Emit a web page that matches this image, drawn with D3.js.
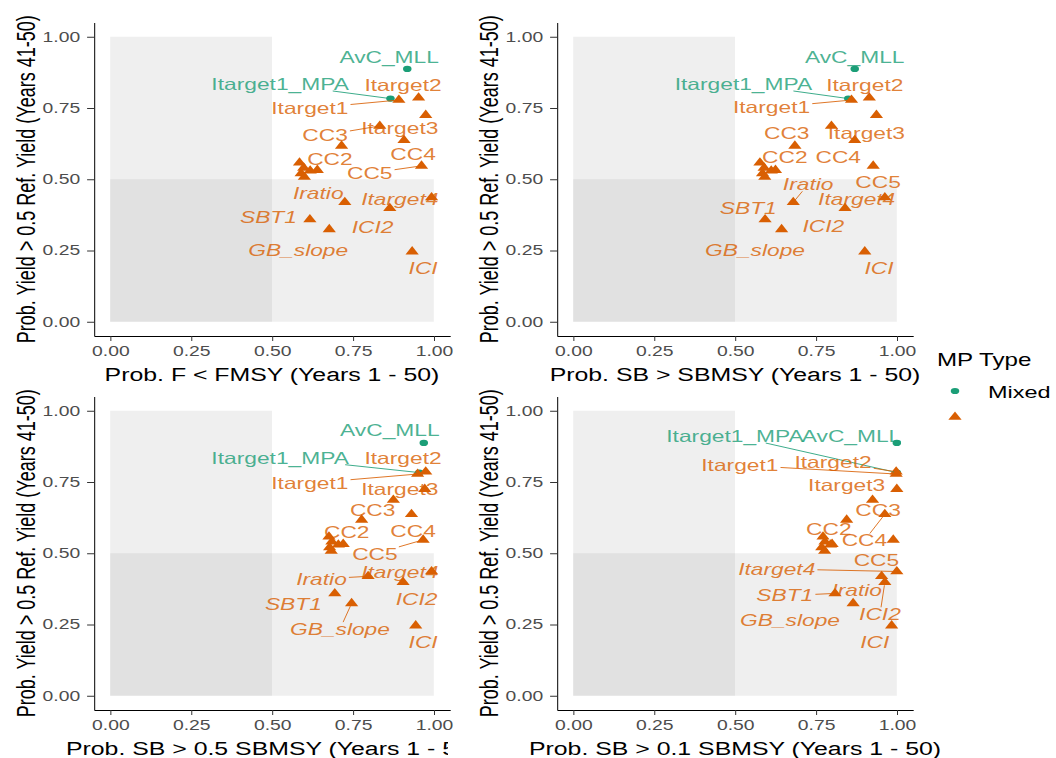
<!DOCTYPE html>
<html>
<head>
<meta charset="utf-8">
<style>
body { margin: 0; background: #fff; }
svg { display: block; font-family: "Liberation Sans", Arial, sans-serif; }
.axis path { stroke: #000; vector-effect: non-scaling-stroke; }
.axis line { stroke: #333; vector-effect: non-scaling-stroke; }
.axis text { fill: #4d4d4d; font-size: 14px; font-family: "Liberation Sans", Arial, sans-serif; }
</style>
</head>
<body>
<svg width="1056" height="758"></svg>
<script src="https://d3js.org/d3.v7.min.js"></script>
<script>

// management procedures, one entry per point
var mpNames = ["AvC_MLL", "Itarget1_MPA", "Itarget1", "Itarget2", "Itarget3", "CC3", "CC4",
  "unlabelled_1", "CC5", "CC2", "unlabelled_2", "unlabelled_3", "unlabelled_4", "unlabelled_5",
  "unlabelled_6", "Iratio", "Itarget4", "ICI2", "SBT1", "GB_slope", "ICI"];
var mpTypes = ["Mixed", ""];
var mpType = ["Mixed", "Mixed", "", "", "", "", "", "", "", "", "", "", "", "", "", "", "", "", "", "", ""];

var yieldProb = [0.887, 0.783, 0.778, 0.786, 0.725, 0.687, 0.637, 0.617, 0.547, 0.532, 0.558,
  0.540, 0.530, 0.520, 0.508, 0.419, 0.436, 0.398, 0.359, 0.324, 0.246];

var probF = [0.918, 0.866, 0.892, 0.953, 0.975, 0.833, 0.908, 0.715, 0.962, 0.640, 0.585,
  0.598, 0.618, 0.590, 0.600, 0.725, 0.993, 0.864, 0.617, 0.677, 0.933];
var probSB = [0.870, 0.850, 0.860, 0.915, 0.937, 0.798, 0.870, 0.685, 0.927, 0.625, 0.577,
  0.590, 0.612, 0.585, 0.592, 0.680, 0.963, 0.840, 0.593, 0.644, 0.901];
var probSB05 = [0.969, 0.955, 0.950, 0.975, 0.972, 0.875, 0.931, 0.777, 0.967, 0.720, 0.676,
  0.685, 0.705, 0.678, 0.683, 0.797, 0.993, 0.905, 0.694, 0.746, 0.944];
var probSB01 = [1.000, 1.000, 0.998, 0.998, 1.000, 0.925, 0.963, 0.845, 0.989, 0.800, 0.772,
  0.778, 0.795, 0.768, 0.777, 0.953, 1.000, 0.963, 0.809, 0.865, 0.984];

// where the repelled labels ended up (data units), null = label dropped
var labelF = [[0.862, 0.928], [0.525, 0.834], [0.617, 0.749], [0.905, 0.830], [0.895, 0.679],
  [0.664, 0.655], [0.936, 0.588], null, [0.802, 0.521], [0.679, 0.570], null, null, null, null, null,
  [0.643, 0.451], [0.895, 0.431], [0.811, 0.333], [0.489, 0.368], [0.581, 0.252], [0.967, 0.187]];
var labelSB = [[0.870, 0.928], [0.526, 0.834], [0.613, 0.752], [0.901, 0.830], [0.906, 0.663],
  [0.660, 0.663], [0.819, 0.579], null, [0.942, 0.491], [0.654, 0.579], null, null, null, null, null,
  [0.726, 0.482], [0.876, 0.429], [0.773, 0.336], [0.541, 0.398], [0.562, 0.252], [0.945, 0.187]];
var labelSB05 = [[0.864, 0.930], [0.525, 0.835], [0.617, 0.746], [0.905, 0.835], [0.895, 0.726],
  [0.811, 0.650], [0.936, 0.577], null, [0.818, 0.498], [0.731, 0.574], null, null, null, null, null,
  [0.653, 0.410], [0.895, 0.433], [0.947, 0.339], [0.566, 0.322], [0.710, 0.234], [0.967, 0.187]];
var labelSB01 = [[0.860, 0.911], [0.500, 0.911], [0.515, 0.809], [0.803, 0.820], [0.845, 0.738],
  [0.942, 0.652], [0.900, 0.545], null, [0.937, 0.474], [0.790, 0.585], null, null, null, null, null,
  [0.876, 0.369], [0.629, 0.445], [0.948, 0.286], [0.654, 0.351], [0.670, 0.265], [0.932, 0.187]];

// labels that got a leader segment
var segF = ["Itarget1_MPA", "Itarget1", "CC3", "CC5"];
var segSB = ["Itarget1_MPA", "Itarget1", "Iratio"];
var segSB05 = ["Itarget1_MPA", "Itarget1", "CC5", "Iratio", "GB_slope"];
var segSB01 = ["Itarget1_MPA", "Itarget1", "Itarget2", "CC4", "Itarget4", "SBT1", "ICI2"];

var xTitles = ["Prob. F < FMSY (Years 1 - 50)", "Prob. SB > SBMSY (Years 1 - 50)",
  "Prob. SB > 0.5 SBMSY (Years 1 - 50)", "Prob. SB > 0.1 SBMSY (Years 1 - 50)"];
var yTitle = "Prob. Yield > 0.5 Ref. Yield (Years 41-50)";
var tickValues = [0, 0.25, 0.5, 0.75, 1];

// shaded zones: x limits and y limits
var zoneX = [[0, 0.5], [0, 1]];
var zoneY = [[0, 1], [0, 0.5]];

// the picture is stretched sideways, so draw in narrow units and widen
var stretch = 1.38;
var svg = d3.select("svg");
var g = svg.append("g").attr("transform", "scale(" + stretch + ",1)");

var colour = d3.scaleOrdinal().domain(mpTypes).range(["#1b9e77", "#d95f02"]);
var shape = d3.scaleOrdinal().domain(mpTypes).range([d3.symbolCircle, d3.symbolTriangle]);
var symSize = d3.scaleOrdinal().domain(mpTypes).range([30, 40]);
function symbolPath(t) { return d3.symbol().type(shape(t)).size(symSize(t))(); }

g.append("clipPath").attr("id", "leftcol")
  .append("rect").attr("x", 0).attr("y", 0).attr("width", 448 / stretch).attr("height", 758);

var panels = [
  {x: probF, lab: labelF, seg: segF, title: xTitles[0], left: 94, bottom: 336, clip: true},
  {x: probSB, lab: labelSB, seg: segSB, title: xTitles[1], left: 557, bottom: 336, clip: false},
  {x: probSB05, lab: labelSB05, seg: segSB05, title: xTitles[2], left: 94, bottom: 710, clip: true},
  {x: probSB01, lab: labelSB01, seg: segSB01, title: xTitles[3], left: 557, bottom: 710, clip: false}
];

var labelSize = 16.5;

panels.forEach(function(p) {
  var x = d3.scaleLinear().domain([-0.05, 1.05]).range([p.left / stretch, (p.left + 356) / stretch]);
  var y = d3.scaleLinear().domain([-0.05, 1.05]).range([p.bottom, p.bottom - 313.5]);
  var pg = g.append("g");

  pg.selectAll("rect.zone")
    .data(d3.range(zoneX.length))
    .enter().append("rect")
      .attr("x", function(k) { return x(zoneX[k][0]); })
      .attr("width", function(k) { return x(zoneX[k][1]) - x(zoneX[k][0]); })
      .attr("y", function(k) { return y(zoneY[k][1]); })
      .attr("height", function(k) { return y(zoneY[k][0]) - y(zoneY[k][1]); })
      .attr("fill", "#999")
      .attr("fill-opacity", 0.16);

  pg.append("g")
      .attr("class", "axis")
      .attr("transform", "translate(0," + p.bottom + ")")
      .call(d3.axisBottom(x).tickValues(tickValues).tickFormat(d3.format(".2f"))
        .tickSize(5).tickSizeOuter(0).tickPadding(5));

  pg.append("g")
      .attr("class", "axis")
      .attr("transform", "translate(" + (p.left / stretch) + ",0)")
      .call(d3.axisLeft(y).tickValues(tickValues).tickFormat(d3.format(".2f"))
        .tickSize(5).tickSizeOuter(0).tickPadding(5));

  var idx = d3.range(mpNames.length);

  pg.selectAll("path.pt")
    .data(idx)
    .enter().append("path")
      .attr("transform", function(i) { return "translate(" + x(p.x[i]) + "," + y(yieldProb[i]) + ")"; })
      .attr("d", function(i) { return symbolPath(mpType[i]); })
      .attr("fill", function(i) { return colour(mpType[i]); });

  var segG = pg.append("g");
  var labelled = idx.filter(function(i) { return p.lab[i] !== null; });

  var texts = pg.append("g").selectAll("text")
    .data(labelled)
    .enter().append("text")
      .attr("x", function(i) { return x(p.lab[i][0]); })
      .attr("y", function(i) { return y(p.lab[i][1]); })
      .attr("dy", "0.35em")
      .attr("text-anchor", "middle")
      .attr("font-size", labelSize)
      .attr("font-style", function(i) { return yieldProb[i] < 0.5 ? "italic" : "normal"; })
      .attr("fill", function(i) { return colour(mpType[i]); })
      .attr("fill-opacity", 0.8)
      .text(function(i) { return mpNames[i]; });

  texts.each(function(i) {
    if (p.seg.indexOf(mpNames[i]) < 0) return;
    var len = this.getComputedTextLength();
    var cx = x(p.lab[i][0]), cy = y(p.lab[i][1]);
    var px = x(p.x[i]), py = y(yieldProb[i]);
    var dx = px - cx, dy = py - cy;
    var hw = len / 2 + 1.5, hh = labelSize * 0.42;
    var t = Math.min(dx ? hw / Math.abs(dx) : Infinity, dy ? hh / Math.abs(dy) : Infinity);
    var L = Math.sqrt(dx * stretch * dx * stretch + dy * dy);
    var e = 1 - 3 / L;
    segG.append("line")
      .attr("x1", cx + t * dx).attr("y1", cy + t * dy)
      .attr("x2", cx + e * dx).attr("y2", cy + e * dy)
      .attr("stroke", colour(mpType[i]))
      .attr("stroke-opacity", 0.85)
      .attr("stroke-width", 1)
      .style("vector-effect", "non-scaling-stroke");
  });

  pg.append("text")
      .attr("transform", "translate(" + ((p.left - 68) / stretch) + "," + (p.bottom - 313.5 / 2) + ") rotate(-90)")
      .attr("dy", "0.35em")
      .attr("text-anchor", "middle")
      .attr("font-size", 18)
      .attr("fill", "#000")
      .text(yTitle);

  pg.append("text")
      .attr("x", (p.left + 178) / stretch)
      .attr("y", p.bottom + 45)
      .attr("text-anchor", "middle")
      .attr("font-size", 18)
      .attr("fill", "#000")
      .attr("clip-path", p.clip ? "url(#leftcol)" : null)
      .text(p.title);
});

// legend
var legend = g.append("g");
legend.append("text")
    .attr("x", 937 / stretch)
    .attr("y", 366.5)
    .attr("font-size", 17.5)
    .attr("fill", "#000")
    .text("MP Type");

var keys = legend.selectAll("g.key")
  .data(mpTypes)
  .enter().append("g")
    .attr("transform", function(d, k) { return "translate(0," + (391 + k * 26) + ")"; });

keys.append("path")
    .attr("transform", "translate(" + (955 / stretch) + ",0)")
    .attr("d", function(d) { return symbolPath(d); })
    .attr("fill", colour);

keys.append("text")
    .attr("x", 988 / stretch)
    .attr("y", 6.5)
    .attr("font-size", 17)
    .attr("fill", "#000")
    .text(function(d) { return d; });

</script>
</body>
</html>
